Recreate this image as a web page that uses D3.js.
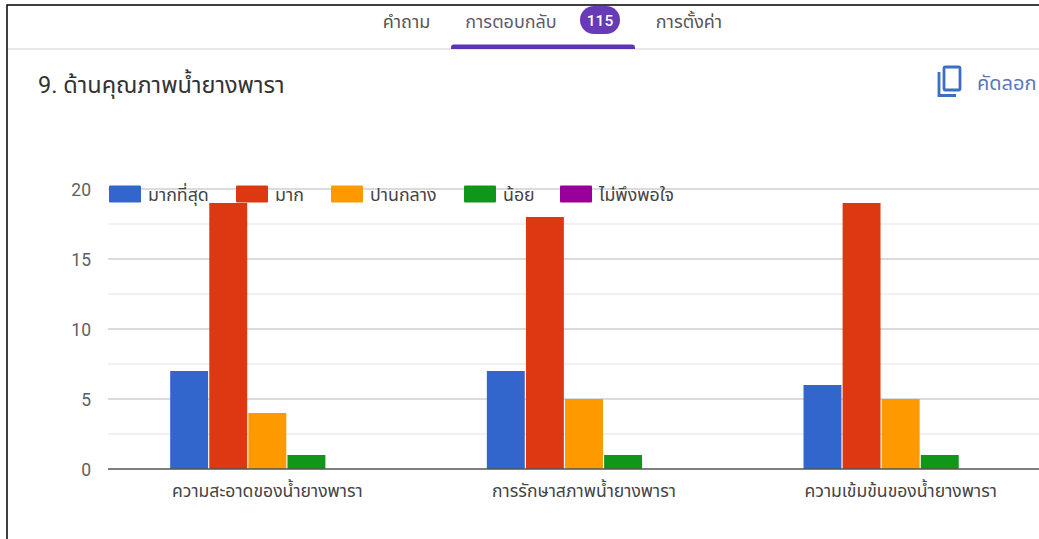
<!DOCTYPE html>
<html><head><meta charset="utf-8">
<script src="https://cdn.jsdelivr.net/npm/d3@7/dist/d3.min.js"></script>
<style>html,body{margin:0;background:#fff;overflow:hidden}svg{display:block}text{font-family:Roboto,"Noto Sans","Noto Sans Thai",sans-serif}</style>
</head><body><svg id="c" width="1039" height="539"></svg>
<script>
const categories=["ความสะอาดของน้ำยางพารา","การรักษาสภาพน้ำยางพารา","ความเข้มข้นของน้ำยางพารา"];
const seriesNames=["มากที่สุด","มาก","ปานกลาง","น้อย","ไม่พึงพอใจ"];
const seriesColors=["#3366cc","#dc3912","#ff9900","#109618","#990099"];
const mostValues=[7,7,6];
const muchValues=[19,18,19];
const mediumValues=[4,5,5];
const littleValues=[1,1,1];
const unsatisfiedValues=[0,0,0];
const majorTicks=[0,5,10,15,20];
const minorTicks=[2.5,7.5,12.5,17.5];
const tabs=["คำถาม","การตอบกลับ","การตั้งค่า"];
const responseCount="115";
const questionTitle="9. ด้านคุณภาพน้ำยางพารา";
const copyLabel="คัดลอก";

const allSeries=[mostValues,muchValues,mediumValues,littleValues,unsatisfiedValues];
const svg=d3.select("#c");
const grey="#5f5f5f";
// frame
svg.append("rect").attr("x",7).attr("y",5).attr("width",1040).attr("height",540).attr("fill","#fff").attr("stroke","#111").attr("stroke-width",1.6);
// tabs
const tabX=[406.5,511,689];
tabs.forEach((t,i)=>svg.append("text").attr("x",tabX[i]).attr("y",28).attr("text-anchor","middle").attr("font-size",18).attr("fill",i==1?"#5f5a70":"#555").text(t));
svg.append("rect").attr("x",580).attr("y",6).attr("width",40).attr("height",28).attr("rx",14).attr("fill","#673ab7");
svg.append("text").attr("x",600).attr("y",26).attr("text-anchor","middle").attr("font-size",15.5).attr("font-weight",500).attr("fill","#fff").text(responseCount);
svg.append("line").attr("x1",8).attr("x2",1039).attr("y1",49).attr("y2",49).attr("stroke","#dfdfdf").attr("stroke-width",1.4);
svg.append("path").attr("d","M451 49v-1.5q0-3 3-3h178q3 0 3 3v1.5z").attr("fill","#5e35b1");
svg.append("text").attr("x",38).attr("y",93).attr("font-size",23.5).attr("fill","#333").text(questionTitle);
svg.append("rect").attr("x",944).attr("y",67).attr("width",16).attr("height",23).attr("rx",1.5).attr("fill","none").attr("stroke","#3b6fc4").attr("stroke-width",2.8);
svg.append("path").attr("d","M939 72V95.5H956").attr("fill","none").attr("stroke","#3b6fc4").attr("stroke-width",2.8);
svg.append("text").attr("x",977).attr("y",90).attr("font-size",20).attr("fill","#5a78bd").text(copyLabel);

// chart
const x=d3.scaleBand().domain(categories).range([109,1059]);
const y=d3.scaleLinear().domain([0,20]).range([469,189]);
const inner=d3.scaleBand().domain(d3.range(seriesNames.length)).range([0,x.bandwidth()]).paddingOuter(1.565).paddingInner(0.03);
const plotRight=1039;
svg.append("g").selectAll("line").data(minorTicks).join("line").attr("x1",108).attr("x2",plotRight).attr("y1",y).attr("y2",y).attr("stroke","#ececec").attr("stroke-width",1.4);
svg.append("g").selectAll("line").data(majorTicks.filter(d=>d>0)).join("line").attr("x1",108).attr("x2",plotRight).attr("y1",y).attr("y2",y).attr("stroke","#cfcfcf").attr("stroke-width",1.5);
svg.append("g").selectAll("text").data(majorTicks).join("text").attr("x",91).attr("y",d=>y(d)+6.5).attr("text-anchor","end").attr("font-size",17.5).attr("fill",grey).text(d=>d);
allSeries.forEach((vals,s)=>{
  svg.append("g").selectAll("rect").data(vals.map((v,i)=>({v,c:categories[i]}))).join("rect")
   .attr("x",d=>x(d.c)+inner(s)).attr("width",inner.bandwidth()).attr("y",d=>y(d.v)).attr("height",d=>y(0)-y(d.v)).attr("fill",seriesColors[s]);
});
svg.append("line").attr("x1",108).attr("x2",plotRight).attr("y1",y(0)).attr("y2",y(0)).attr("stroke","#555").attr("stroke-width",1.4);
svg.append("g").selectAll("text").data(categories).join("text").attr("x",(d,i)=>x(d)+x.bandwidth()/2).attr("y",497).attr("text-anchor","middle").attr("font-size",17.6).attr("fill","#444").text(d=>d);
// legend
const legX=[109,236,331,464,560];
seriesNames.forEach((n,i)=>{
  svg.append("rect").attr("x",legX[i]).attr("y",185.5).attr("width",32).attr("height",17).attr("rx",1).attr("fill",seriesColors[i]);
  svg.append("text").attr("x",legX[i]+39).attr("y",201).attr("font-size",17.8).attr("fill","#444").text(n);
});
</script></body></html>
